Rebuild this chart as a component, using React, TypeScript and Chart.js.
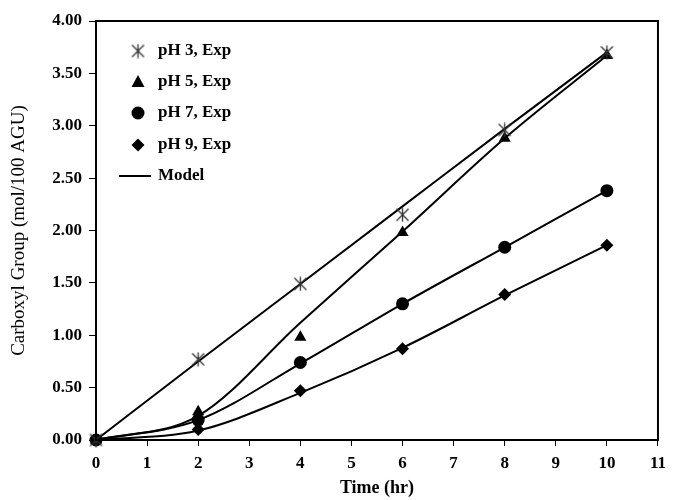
import React, { useEffect, useRef } from "react";
import { Chart, registerables } from "chart.js";

Chart.register(...registerables);

// ---- data ----
const timeHr = [0, 2, 4, 6, 8, 10];
const ph3Exp = [0, 0.77, 1.49, 2.15, 2.96, 3.7];
const ph5Exp = [0, 0.27, 0.98, 1.98, 2.88, 3.67];
const ph7Exp = [0, 0.19, 0.74, 1.3, 1.84, 2.38];
const ph9Exp = [0, 0.1, 0.47, 0.87, 1.39, 1.86];
const ph3Model = [0, 0.75, 1.49, 2.23, 2.97, 3.7];
const ph5Model = [0, 0.23, 1.12, 1.99, 2.88, 3.67];
const ph7Model = [0, 0.19, 0.73, 1.3, 1.84, 2.38];
const ph9Model = [0, 0.09, 0.45, 0.88, 1.38, 1.86];
const legendLabels = ["pH 3, Exp", "pH 5, Exp", "pH 7, Exp", "pH 9, Exp", "Model"];
const xTitle = "Time (hr)";
const yTitle = "Carboxyl Group (mol/100 AGU)";

const FONT = "'Liberation Serif', 'Times New Roman', serif";

function toPts(xs: number[], ys: number[]) {
  return xs.map((x, i) => ({ x, y: ys[i] }));
}

function makeAsterisk(): HTMLCanvasElement {
  const c = document.createElement("canvas");
  c.width = 15;
  c.height = 15;
  const g = c.getContext("2d")!;
  g.strokeStyle = "#333";
  g.lineWidth = 1.3;
  g.beginPath();
  g.moveTo(1.5, 1.5);
  g.lineTo(13.5, 13.5);
  g.moveTo(13.5, 1.5);
  g.lineTo(1.5, 13.5);
  g.moveTo(7.5, 0.5);
  g.lineTo(7.5, 14.5);
  g.stroke();
  return c;
}

function drawMarker(ctx: CanvasRenderingContext2D, kind: number, x: number, y: number, star: HTMLCanvasElement) {
  ctx.save();
  ctx.fillStyle = "#000";
  ctx.beginPath();
  if (kind === 0) {
    ctx.drawImage(star, x - 7.5, y - 7.5);
  } else if (kind === 1) {
    ctx.moveTo(x, y - 7);
    ctx.lineTo(x + 6.5, y + 5);
    ctx.lineTo(x - 6.5, y + 5);
    ctx.closePath();
    ctx.fill();
  } else if (kind === 2) {
    ctx.arc(x, y, 6.5, 0, Math.PI * 2);
    ctx.fill();
  } else if (kind === 3) {
    ctx.moveTo(x, y - 6.5);
    ctx.lineTo(x + 6.5, y);
    ctx.lineTo(x, y + 6.5);
    ctx.lineTo(x - 6.5, y);
    ctx.closePath();
    ctx.fill();
  } else {
    ctx.strokeStyle = "#000";
    ctx.lineWidth = 2;
    ctx.moveTo(x - 16, y);
    ctx.lineTo(x + 16, y);
    ctx.stroke();
  }
  ctx.restore();
}

export default function App() {
  const ref = useRef<HTMLCanvasElement | null>(null);

  useEffect(() => {
    if (!ref.current) return;
    const star = makeAsterisk();

    const framePlugin = {
      id: "frameLegend",
      afterDraw(chart: any) {
        const { ctx, chartArea: a } = chart;
        ctx.save();
        ctx.strokeStyle = "#000";
        ctx.lineWidth = 2;
        ctx.strokeRect(a.left, a.top, a.right - a.left, a.bottom - a.top);
        // legend
        const rowsY = [51, 82, 113, 145, 176];
        const markerX = a.left + 42;
        const textX = a.left + 62;
        ctx.font = `bold 17px ${FONT}`;
        ctx.fillStyle = "#000";
        ctx.textBaseline = "middle";
        ctx.textAlign = "left";
        legendLabels.forEach((lab, i) => {
          const y = rowsY[i];
          drawMarker(ctx, i, i === 4 ? markerX - 3 : markerX, y, star);
          ctx.fillText(lab, textX, y);
        });
        ctx.restore();
      },
    };

    const modelDs = (ys: number[]) => ({
      type: "line" as const,
      label: "Model",
      data: toPts(timeHr, ys),
      borderColor: "#000",
      borderWidth: 2,
      pointRadius: 0,
      showLine: true,
      cubicInterpolationMode: "monotone" as const,
      fill: false,
    });
    const expDs = (label: string, ys: number[], style: any, radius: number) => ({
      type: "line" as const,
      label,
      data: toPts(timeHr, ys),
      showLine: false,
      clip: false,
      pointStyle: style,
      pointRadius: radius,
      pointBackgroundColor: "#000",
      pointBorderColor: "#000",
      pointBorderWidth: 0,
    });

    const chart = new Chart(ref.current, {
      type: "line",
      data: {
        datasets: [
          expDs(legendLabels[0], ph3Exp, star, 7),
          expDs(legendLabels[1], ph5Exp, "triangle", 7),
          expDs(legendLabels[2], ph7Exp, "circle", 6.5),
          expDs(legendLabels[3], ph9Exp, "rectRot", 6.5),
          modelDs(ph3Model),
          modelDs(ph5Model),
          modelDs(ph7Model),
          modelDs(ph9Model),
        ] as any,
      },
      options: {
        animation: false,
        responsive: false,
        layout: { padding: { left: 0, top: 21, right: 10, bottom: 0 } },
        plugins: {
          legend: { display: false },
          tooltip: { enabled: false },
        },
        scales: {
          x: {
            type: "linear",
            min: 0,
            max: 11,
            afterFit(s: any) {
              s.height = 60;
            },
            ticks: {
              stepSize: 1,
              color: "#000",
              padding: 7,
              font: { family: FONT, size: 17, weight: "bold" },
            },
            grid: {
              drawOnChartArea: false,
              drawTicks: true,
              tickLength: 6,
              color: "#000",
              lineWidth: 1,
            },
            border: { display: true, color: "#000", width: 2 },
            title: {
              display: true,
              text: xTitle,
              color: "#000",
              font: { family: FONT, size: 18, weight: "bold" },
              padding: { top: 0, bottom: 1 },
            },
          },
          y: {
            type: "linear",
            min: 0,
            max: 4,
            afterFit(s: any) {
              s.width = 96;
            },
            ticks: {
              stepSize: 0.5,
              color: "#000",
              padding: 7,
              font: { family: FONT, size: 17, weight: "bold" },
              callback: (v: any) => Number(v).toFixed(2),
            },
            grid: {
              drawOnChartArea: false,
              drawTicks: true,
              tickLength: 7,
              color: "#000",
              lineWidth: 1,
            },
            border: { display: true, color: "#000", width: 2 },
            title: {
              display: true,
              text: yTitle,
              color: "#000",
              font: { family: FONT, size: 19, weight: "normal" },
              padding: { top: 8, bottom: 0 },
            },
          },
        },
      },
      plugins: [framePlugin],
    });
    return () => chart.destroy();
  }, []);

  return (
    <div style={{ position: "absolute", left: 0, top: 0, width: 673, height: 500, background: "#fff" }}>
      <canvas ref={ref} width={673} height={500} />
    </div>
  );
}
